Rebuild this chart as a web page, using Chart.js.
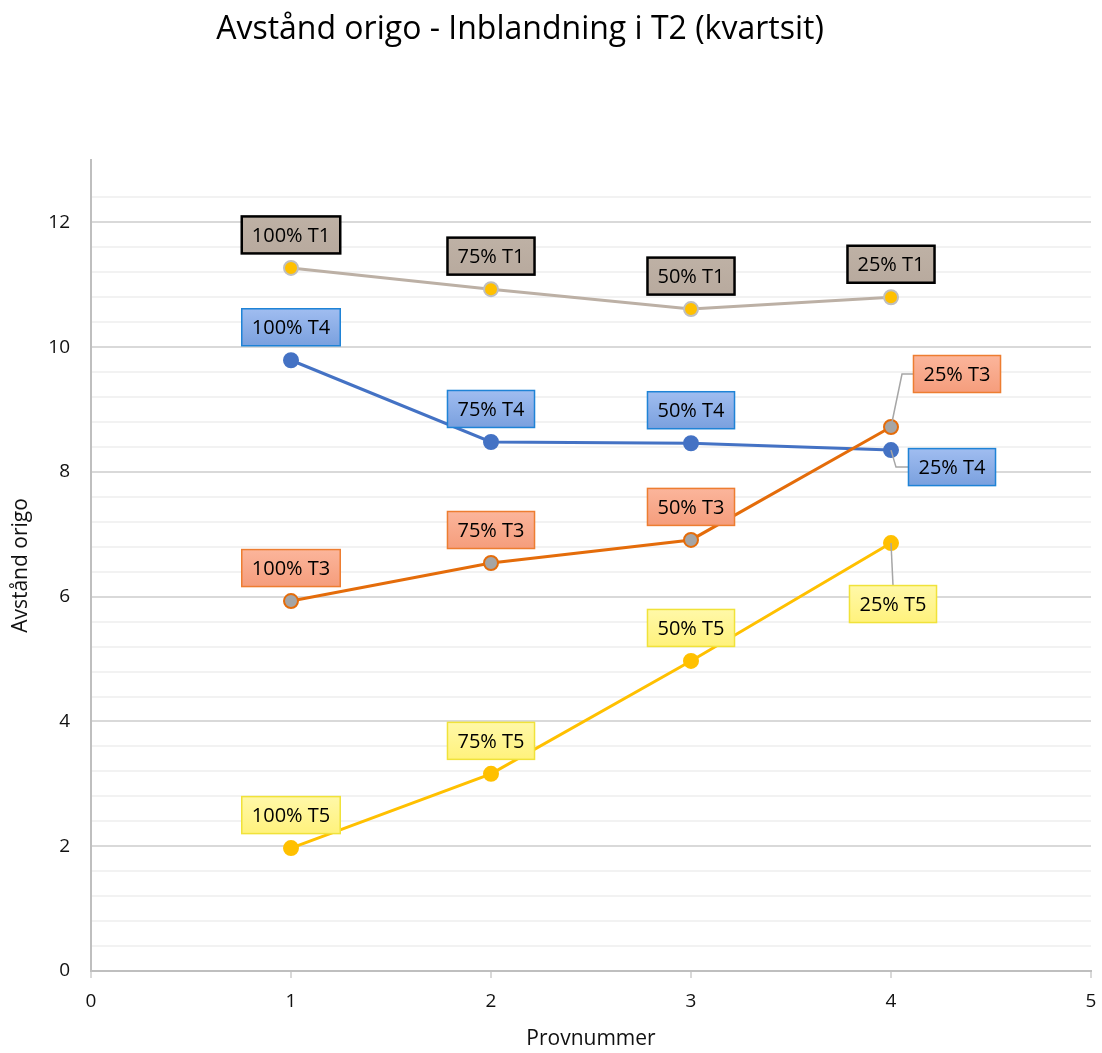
<!DOCTYPE html>
<html>
<head>
<meta charset="utf-8">
<title>Avstånd origo - Inblandning i T2 (kvartsit)</title>
<script src="https://cdn.jsdelivr.net/npm/chart.js@4.4.1/dist/chart.umd.min.js"></script>
<style>
    html, body { margin: 0; padding: 0; background: #fff; }
    #wrap { width: 1102px; height: 1053px; }
</style>
</head>
<body>
<div id="wrap"><canvas id="chart" width="1102" height="1053"></canvas></div>
<script>
// Data
const provnummer = [1, 2, 3, 4];
const mixShares = ['100%', '75%', '50%', '25%'];

const t1Values = [11.27, 10.93, 10.61, 10.80];
const t4Values = [9.79, 8.48, 8.46, 8.35];
const t3Values = [5.93, 6.54, 6.91, 8.72];
const t5Values = [1.97, 3.16, 4.97, 6.86];

const yTickLabels = [0, 2, 4, 6, 8, 10, 12];
const xTickLabels = [0, 1, 2, 3, 4, 5];

const FONT = "'Open Sans', 'Liberation Sans', sans-serif";

function toPoints(values) {
    return values.map((v, i) => ({ x: provnummer[i], y: v }));
}

function makeLabels(tag) {
    return mixShares.map(s => s + ' ' + tag);
}

// Default label box: centered above point
const above = { dx: 0, dy: -33 };

// Labels with boxes and leader lines
const pointLabelPlugin = {
    id: 'pointLabels',
    afterDatasetsDraw(chart) {
        const ctx = chart.ctx;
        ctx.save();
        ctx.font = '20px ' + FONT;
        ctx.textAlign = 'center';
        ctx.textBaseline = 'middle';
        chart.data.datasets.forEach((ds, i) => {
            const meta = chart.getDatasetMeta(i);
            const style = ds.labelStyle;
            meta.data.forEach((pt, j) => {
                const text = ds.pointLabels[j];
                const off = (ds.labelPlacement && ds.labelPlacement[j]) || above;
                const w = ctx.measureText(text).width + 20;
                const h = 37;
                const cx = pt.x + off.dx;
                const cy = pt.y + off.dy;
                const left = cx - w / 2;
                const top = cy - h / 2;

                // leader line
                if (off.leader) {
                    ctx.strokeStyle = '#a6a6a6';
                    ctx.lineWidth = 1.5;
                    ctx.beginPath();
                    ctx.moveTo(pt.x, pt.y);
                    if (off.leader === 'elbow') {
                        ctx.lineTo(pt.x + off.elbowDx, cy);
                        ctx.lineTo(left, cy);
                    } else {
                        ctx.lineTo(cx, top);
                    }
                    ctx.stroke();
                }

                const grad = ctx.createLinearGradient(0, top, 0, top + h);
                grad.addColorStop(0, style.fillTop);
                grad.addColorStop(1, style.fillBottom);
                ctx.fillStyle = grad;
                ctx.fillRect(left, top, w, h);
                ctx.strokeStyle = style.border;
                ctx.lineWidth = style.borderWidth;
                ctx.strokeRect(left, top, w, h);

                ctx.fillStyle = '#000';
                ctx.fillText(text, cx, cy + 1);
            });
        });
        ctx.restore();
    }
};

// Chart title drawn at the same place as in the reference
const titlePlugin = {
    id: 'topTitle',
    afterDraw(chart) {
        const ctx = chart.ctx;
        ctx.save();
        ctx.font = '32px ' + FONT;
        ctx.fillStyle = '#000';
        ctx.textAlign = 'center';
        ctx.textBaseline = 'middle';
        ctx.fillText('Avstånd origo - Inblandning i T2 (kvartsit)', 520, 30);
        ctx.restore();
    }
};

function isMajor(v) {
    return yTickLabels.some(t => Math.abs(t - v) < 1e-6);
}

const ctx = document.getElementById('chart');

new Chart(ctx, {
    type: 'line',
    data: {
        datasets: [
            {
                label: 'T1',
                data: toPoints(t1Values),
                pointLabels: makeLabels('T1'),
                borderColor: '#bcb0a5',
                borderWidth: 3,
                pointBackgroundColor: '#ffc000',
                pointBorderColor: '#bfbfbf',
                pointBorderWidth: 2,
                pointRadius: 7,
                order: 3,
                labelStyle: { fillTop: '#beb1a5', fillBottom: '#b8aa9e', border: '#000', borderWidth: 2.5 }
            },
            {
                label: 'T4',
                data: toPoints(t4Values),
                pointLabels: makeLabels('T4'),
                borderColor: '#4472c4',
                borderWidth: 3,
                pointBackgroundColor: '#4472c4',
                pointBorderColor: '#4472c4',
                pointBorderWidth: 2,
                pointRadius: 7,
                order: 2,
                labelPlacement: [null, null, null, { dx: 61, dy: 17, leader: 'elbow', elbowDx: 5 }],
                labelStyle: { fillTop: '#a0bdf0', fillBottom: '#7aa0de', border: '#1f83d6', borderWidth: 1.5 }
            },
            {
                label: 'T3',
                data: toPoints(t3Values),
                pointLabels: makeLabels('T3'),
                borderColor: '#e46c0a',
                borderWidth: 3,
                pointBackgroundColor: '#a5a5a5',
                pointBorderColor: '#e46c0a',
                pointBorderWidth: 2,
                pointRadius: 7,
                order: 0,
                labelPlacement: [null, null, null, { dx: 66, dy: -53, leader: 'elbow', elbowDx: 11 }],
                labelStyle: { fillTop: '#fbb59b', fillBottom: '#f59d7c', border: '#ed7d31', borderWidth: 1.5 }
            },
            {
                label: 'T5',
                data: toPoints(t5Values),
                pointLabels: makeLabels('T5'),
                borderColor: '#ffc000',
                borderWidth: 3,
                pointBackgroundColor: '#ffc000',
                pointBorderColor: '#ffc000',
                pointBorderWidth: 2,
                pointRadius: 7,
                order: 1,
                labelPlacement: [null, null, null, { dx: 2, dy: 61, leader: 'straight' }],
                labelStyle: { fillTop: '#fff8a8', fillBottom: '#fff27c', border: '#f0e23a', borderWidth: 1.5 }
            }
        ]
    },
    options: {
        responsive: false,
        animation: false,
        layout: {
            padding: { top: 160, right: 11, left: 0, bottom: 0 }
        },
        scales: {
            x: {
                type: 'linear',
                min: 0,
                max: 5,
                afterFit: function(scale) {
                    scale.height = 82;
                    scale.paddingLeft = 0;
                    scale.paddingRight = 0;
                },
                afterBuildTicks: function(scale) {
                    scale.ticks = xTickLabels.map(v => ({ value: v }));
                },
                border: { color: '#bfbfbf', width: 2 },
                grid: {
                    drawOnChartArea: false,
                    drawTicks: true,
                    tickLength: 7,
                    color: '#d9d9d9',
                    lineWidth: 2
                },
                ticks: {
                    color: '#111',
                    padding: 12,
                    font: { family: FONT, size: 19 }
                },
                title: {
                    display: true,
                    text: 'Provnummer',
                    color: '#111',
                    padding: { top: 0, bottom: 1 },
                    font: { family: FONT, size: 21 }
                }
            },
            y: {
                type: 'linear',
                min: 0,
                max: 13,
                afterFit: function(scale) {
                    scale.width = 91;
                    scale.paddingTop = 0;
                    scale.paddingBottom = 0;
                },
                border: { color: '#bfbfbf', width: 2 },
                grid: {
                    drawTicks: false,
                    lineWidth: 2,
                    color: function(c) {
                        const v = c.tick.value;
                        if (v > 12.9) return 'rgba(0,0,0,0)';
                        return isMajor(v) ? '#d9d9d9' : '#f2f2f2';
                    }
                },
                ticks: {
                    stepSize: 0.4,
                    autoSkip: false,
                    color: '#111',
                    padding: 21,
                    font: { family: FONT, size: 19 },
                    callback: function(value) {
                        return isMajor(value) ? String(Math.round(value)) : '';
                    }
                },
                title: {
                    display: true,
                    text: 'Avstånd origo',
                    color: '#111',
                    padding: { top: 8, bottom: 0 },
                    font: { family: FONT, size: 21 }
                }
            }
        },
        plugins: {
            legend: { display: false },
            tooltip: { enabled: false },
            title: { display: false }
        }
    },
    plugins: [pointLabelPlugin, titlePlugin]
});
</script>
</body>
</html>
